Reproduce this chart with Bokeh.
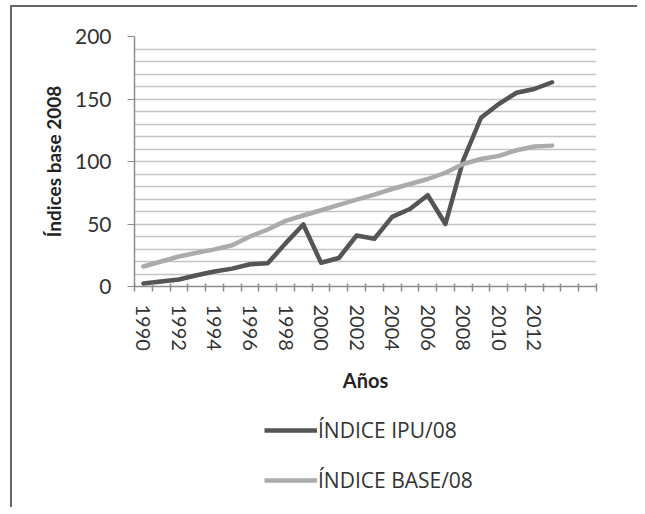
from bokeh.plotting import figure
from bokeh.layouts import column
from bokeh.models import FixedTicker, Legend, LegendItem, ColumnDataSource, Range1d
from bokeh.embed import file_html
from bokeh.resources import INLINE

years = list(range(1990, 2014))
ipu = [2.4, 4, 5.6, 9, 12, 14.3, 17.8, 18.6, 34.5, 49.6, 19, 22.8, 40.8, 38.2,
       55.7, 62, 73, 50, 101, 135, 146, 155, 158, 163.4]
base = [16, 20, 24, 27, 29.7, 33, 40, 45.6, 52.5, 56.8, 61, 65.3, 69.5, 73.5,
        78, 82, 86, 91, 98, 102, 104.5, 109, 112, 112.7]
category_years = list(range(1990, 2016))
label_years = list(range(1990, 2013, 2))
y_ticks = [0, 50, 100, 150, 200]
y_minor = [v for v in range(10, 200, 10) if v % 50 != 0]
series_labels = ["ÍNDICE IPU/08", "ÍNDICE BASE/08"]
series_colors = ["#555555", "#ababab"]

FONT = "Lato"

src = ColumnDataSource(dict(year=years, ipu=ipu, base=base))

p = figure(width=625, height=387, output_backend="svg", toolbar_location=None,
           x_range=Range1d(category_years[0] - 0.5, category_years[-1] + 0.5),
           y_range=Range1d(0, 200),
           min_border_left=122, min_border_top=29, min_border_right=41,
           min_border_bottom=108)
p.outline_line_color = None
p.background_fill_color = "white"

# grid
p.xgrid.grid_line_color = None
p.ygrid.ticker = FixedTicker(ticks=y_ticks, minor_ticks=y_minor)
p.ygrid.grid_line_color = "#c4c4c4"
p.ygrid.grid_line_width = 1.6
p.ygrid.minor_grid_line_color = "#c4c4c4"
p.ygrid.minor_grid_line_width = 1.6

# y axis
p.yaxis.ticker = FixedTicker(ticks=y_ticks, minor_ticks=y_minor)
p.yaxis.minor_tick_line_color = None
p.yaxis.major_tick_out = 7
p.yaxis.major_tick_in = 0
p.yaxis.axis_line_color = "#8c8c8c"
p.yaxis.major_tick_line_color = "#8c8c8c"
p.yaxis.axis_line_width = 1.5
p.yaxis.major_label_text_font = FONT
p.yaxis.major_label_text_font_size = "21px"
p.yaxis.major_label_text_color = "#333333"
p.yaxis.major_label_standoff = 16
p.yaxis.axis_label = "Índices base 2008"
p.yaxis.axis_label_text_font = FONT
p.yaxis.axis_label_text_font_style = "bold"
p.yaxis.axis_label_text_font_size = "19px"
p.yaxis.axis_label_text_color = "#222222"
p.yaxis.axis_label_standoff = 7

# x axis
p.xaxis.ticker = FixedTicker(ticks=label_years,
                             minor_ticks=[y - 0.5 for y in category_years] + [category_years[-1] + 0.5])
p.xaxis.major_tick_line_color = None
p.xaxis.minor_tick_line_color = "#8c8c8c"
p.xaxis.minor_tick_out = 5
p.xaxis.minor_tick_in = 3
p.xaxis.minor_tick_line_width = 1.5
p.xaxis.axis_line_color = "#8c8c8c"
p.xaxis.axis_line_width = 1.5
p.xaxis.major_label_orientation = "vertical"
p.xaxis.major_label_text_font = FONT
p.xaxis.major_label_text_font_size = "20px"
p.xaxis.major_label_text_color = "#333333"
p.xaxis.major_label_standoff = 12
p.xaxis.axis_label = "Años"
p.xaxis.axis_label_text_font = FONT
p.xaxis.axis_label_text_font_style = "bold"
p.xaxis.axis_label_text_font_size = "20px"
p.xaxis.axis_label_text_color = "#222222"
p.xaxis.axis_label_standoff = 14

for col, color in zip(["ipu", "base"], series_colors):
    p.line("year", col, source=src, line_color=color, line_width=4.5,
           line_join="round", line_cap="round")

# legend panel (below the chart)
lg = figure(width=625, height=113, output_backend="svg", toolbar_location=None,
            x_range=Range1d(0, 1), y_range=Range1d(0, 1),
            x_axis_type=None, y_axis_type=None, min_border=0)
lg.outline_line_color = None
lg.xgrid.grid_line_color = None
lg.ygrid.grid_line_color = None
items = []
for col, color, lab in zip(["ipu", "base"], series_colors, series_labels):
    r = lg.line("year", col, source=src, line_color=color, line_width=4.5)
    r.visible = False
    items.append(LegendItem(label=lab, renderers=[r]))

legend = Legend(items=items, location=(130, 13), orientation="vertical")
legend.border_line_color = None
legend.background_fill_alpha = 0
legend.label_text_font = "Open Sans"
legend.label_text_font_size = "21px"
legend.label_text_color = "#333333"
legend.glyph_width = 53
legend.glyph_height = 20
legend.label_height = 20
legend.label_standoff = 1
legend.spacing = 22
legend.padding = 4
legend.margin = 0
lg.add_layout(legend, "center")

layout = column(p, lg, spacing=0,
                styles={"border-top": "2px solid #666", "border-left": "2px solid #666",
                        "margin-left": "10px", "margin-top": "5px"})

open("out.html", "w").write(file_html(layout, INLINE))
